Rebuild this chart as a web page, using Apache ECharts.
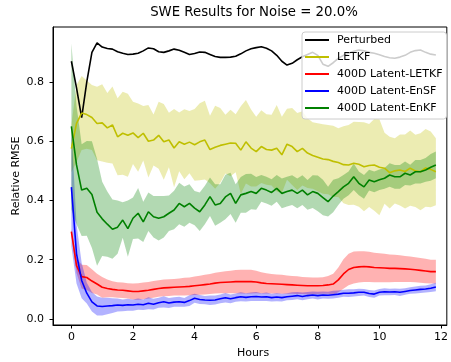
<!DOCTYPE html>
<html><head><meta charset="utf-8">
<script src="https://cdn.jsdelivr.net/npm/echarts@6/dist/echarts.min.js"></script>
<style>html,body{margin:0;padding:0;background:#fff}#c{width:451px;height:362px}</style>
</head><body><div id="c"></div>
<script>
const minutes = [0,10,20,30,40,50,60,70,80,90,100,110,120,130,140,150,160,170,180,190,200,210,220,230,240,250,260,270,280,290,300,310,320,330,340,350,360,370,380,390,400,410,420,430,440,450,460,470,480,490,500,510,520,530,540,550,560,570,580,590,600,610,620,630,640,650,660,670,680,690,700,710];
const seriesNames = ['Perturbed','LETKF','400D Latent-LETKF','400D Latent-EnSF','400D Latent-EnKF'];
const xTicks = [0,2,4,6,8,10,12];
const yTicks = [0,0.2,0.4,0.6,0.8];

const perturbed = [0.87,0.78,0.68,0.80,0.90,0.932,0.918,0.913,0.911,0.902,
0.897,0.893,0.894,0.897,0.905,0.915,0.912,0.902,0.900,0.905,
0.911,0.907,0.900,0.893,0.896,0.901,0.900,0.893,0.886,0.883,
0.883,0.884,0.887,0.895,0.905,0.912,0.916,0.919,0.914,0.905,
0.890,0.870,0.857,0.863,0.875,0.885,0.893,0.900,0.890,0.860,
0.853,0.865,0.880,0.890,0.897,0.904,0.908,0.905,0.900,0.897,
0.892,0.886,0.882,0.880,0.884,0.890,0.900,0.906,0.908,0.900,
0.894,0.891];

const letkf = [0.575,0.66,0.695,0.69,0.68,0.66,0.662,0.645,0.655,0.615,
0.627,0.62,0.628,0.612,0.627,0.60,0.604,0.62,0.598,0.604,
0.577,0.598,0.59,0.597,0.588,0.598,0.604,0.572,0.58,0.586,
0.59,0.594,0.593,0.57,0.598,0.577,0.565,0.582,0.572,0.57,
0.576,0.554,0.59,0.582,0.565,0.576,0.56,0.552,0.546,0.54,
0.538,0.532,0.528,0.521,0.52,0.526,0.522,0.514,0.518,0.52,
0.512,0.509,0.494,0.50,0.503,0.498,0.509,0.50,0.497,0.51,
0.505,0.497];
const letkfSpread = [0.08,0.13,0.125,0.115,0.11,0.124,0.13,0.118,0.13,0.13,
0.14,0.14,0.105,0.115,0.092,0.122,0.086,0.113,0.128,0.092,
0.132,0.099,0.118,0.105,0.121,0.13,0.133,0.114,0.14,0.126,
0.099,0.112,0.098,0.148,0.141,0.13,0.118,0.123,0.119,0.119,
0.146,0.129,0.12,0.13,0.13,0.125,0.118,0.112,0.115,0.117,
0.117,0.12,0.116,0.13,0.135,0.14,0.143,0.15,0.14,0.155,
0.162,0.12,0.121,0.11,0.12,0.125,0.127,0.122,0.13,0.131,
0.128,0.113];

const latLetkf = [0.295,0.18,0.143,0.14,0.128,0.118,0.107,0.103,0.1,0.098,
0.097,0.095,0.093,0.093,0.095,0.097,0.1,0.103,0.105,0.106,
0.107,0.108,0.109,0.11,0.112,0.114,0.116,0.118,0.121,0.123,
0.124,0.125,0.126,0.126,0.126,0.126,0.125,0.122,0.12,0.119,
0.118,0.117,0.116,0.115,0.114,0.113,0.112,0.112,0.112,0.113,
0.115,0.118,0.132,0.152,0.167,0.174,0.176,0.177,0.176,0.174,
0.173,0.172,0.171,0.171,0.17,0.169,0.168,0.166,0.164,0.162,
0.16,0.16];
const latLetkfSpread = [0.01,0.025,0.04,0.042,0.04,0.035,0.035,0.03,0.027,0.026,
0.026,0.026,0.027,0.028,0.028,0.028,0.028,0.028,0.028,0.028,
0.028,0.029,0.03,0.03,0.031,0.032,0.033,0.034,0.035,0.036,
0.037,0.038,0.039,0.04,0.04,0.04,0.038,0.036,0.034,0.033,
0.032,0.032,0.031,0.03,0.03,0.029,0.029,0.028,0.028,0.028,
0.03,0.035,0.042,0.05,0.053,0.054,0.053,0.052,0.051,0.05,
0.049,0.048,0.047,0.046,0.045,0.044,0.043,0.042,0.042,0.041,
0.04,0.04];

const latEnsf = [0.445,0.22,0.13,0.087,0.058,0.044,0.042,0.044,0.045,0.047,
0.046,0.048,0.047,0.05,0.048,0.053,0.05,0.055,0.058,0.054,
0.057,0.058,0.056,0.062,0.07,0.066,0.064,0.063,0.064,0.068,
0.072,0.068,0.072,0.075,0.073,0.075,0.076,0.074,0.075,0.072,
0.074,0.072,0.075,0.077,0.079,0.076,0.079,0.081,0.079,0.081,
0.08,0.082,0.084,0.087,0.087,0.088,0.09,0.09,0.086,0.084,
0.09,0.092,0.091,0.092,0.09,0.093,0.096,0.098,0.1,0.101,
0.104,0.108];
const latEnsfSpread = [0.2,0.1,0.06,0.035,0.033,0.032,0.03,0.028,0.025,0.022,
0.02,0.02,0.019,0.019,0.018,0.02,0.018,0.017,0.019,0.017,
0.016,0.017,0.015,0.018,0.015,0.015,0.014,0.016,0.015,0.015,
0.016,0.015,0.014,0.015,0.014,0.014,0.015,0.013,0.014,0.013,
0.014,0.013,0.012,0.013,0.012,0.013,0.012,0.012,0.013,0.012,
0.012,0.013,0.012,0.012,0.013,0.012,0.012,0.011,0.012,0.012,
0.011,0.012,0.011,0.011,0.012,0.011,0.011,0.012,0.012,0.012,
0.013,0.014];

const latEnkf = [0.65,0.52,0.435,0.441,0.42,0.36,0.338,0.32,0.303,0.31,
0.334,0.305,0.34,0.357,0.328,0.362,0.345,0.34,0.345,0.357,
0.368,0.39,0.379,0.39,0.374,0.362,0.385,0.413,0.385,0.39,
0.412,0.424,0.39,0.419,0.424,0.43,0.424,0.441,0.435,0.427,
0.441,0.424,0.43,0.435,0.424,0.435,0.419,0.43,0.424,0.41,
0.396,0.415,0.43,0.446,0.458,0.48,0.458,0.446,0.469,0.463,
0.47,0.475,0.486,0.48,0.48,0.492,0.486,0.497,0.497,0.503,
0.512,0.52];
const latEnkfSpread = [0.28,0.2,0.155,0.16,0.18,0.18,0.125,0.11,0.1,0.09,
0.06,0.095,0.07,0.085,0.068,0.065,0.07,0.075,0.07,0.06,
0.065,0.07,0.068,0.065,0.058,0.065,0.065,0.065,0.07,0.065,
0.075,0.07,0.065,0.06,0.065,0.06,0.055,0.045,0.045,0.045,
0.045,0.05,0.05,0.05,0.05,0.05,0.05,0.055,0.06,0.06,
0.05,0.055,0.045,0.04,0.04,0.045,0.04,0.04,0.035,0.035,
0.035,0.035,0.04,0.04,0.04,0.04,0.035,0.04,0.04,0.04,
0.045,0.045];

const hours = minutes.map(m => m / 60);
const FONT = '"DejaVu Sans", sans-serif';

function lineSeries(name, color, vals) {
  return {
    type: 'line', name: name, silent: true, animation: false,
    showSymbol: false, symbol: 'none', z: 2,
    data: hours.map((h, i) => [h, vals[i]]),
    lineStyle: { color: color, width: 1.6 },
    itemStyle: { color: color }
  };
}
function bandSeries(fill, mean, spread) {
  return {
    type: 'custom', silent: true, animation: false, z: 2, clip: true,
    data: [[hours[0], mean[0]]],
    renderItem: function (params, api) {
      const pts = [];
      for (let i = 0; i < hours.length; i++) pts.push(api.coord([hours[i], mean[i] + spread[i]]));
      for (let i = hours.length - 1; i >= 0; i--) pts.push(api.coord([hours[i], mean[i] - spread[i]]));
      return { type: 'polygon', shape: { points: pts }, style: { fill: fill, stroke: null } };
    }
  };
}

const series = [
  lineSeries(seriesNames[0], '#000000', perturbed),
  lineSeries(seriesNames[1], '#bfbf00', letkf),
  bandSeries('rgba(191,191,0,0.3)', letkf, letkfSpread),
  lineSeries(seriesNames[2], '#ff0000', latLetkf),
  bandSeries('rgba(255,0,0,0.3)', latLetkf, latLetkfSpread),
  lineSeries(seriesNames[3], '#0000ff', latEnsf),
  bandSeries('rgba(0,0,255,0.3)', latEnsf, latEnsfSpread),
  lineSeries(seriesNames[4], '#008000', latEnkf),
  bandSeries('rgba(0,128,0,0.3)', latEnkf, latEnkfSpread)
];

const chart = echarts.init(document.getElementById('c'), null, { renderer: 'canvas' });
chart.setOption({
  animation: false,
  backgroundColor: '#ffffff',
  grid: { left: 53, top: 27, width: 396, height: 298, show: true, borderColor: '#000', borderWidth: 1, backgroundColor: 'transparent' },
  xAxis: {
    type: 'value', min: -0.597, max: 12.189,
    splitLine: { show: false },
    axisLine: { show: true, onZero: false, lineStyle: { color: '#000', width: 1 } },
    axisTick: { show: true, length: 3.5, customValues: xTicks, lineStyle: { color: '#000', width: 1 } },
    axisLabel: { customValues: xTicks, margin: 7, color: '#000', fontSize: 11, fontFamily: FONT, formatter: v => String(Math.round(v)) }
  },
  yAxis: {
    type: 'value', min: -0.0203, max: 0.9856,
    splitLine: { show: false },
    axisLine: { show: true, onZero: false, lineStyle: { color: '#000', width: 1 } },
    axisTick: { show: true, length: 3.5, customValues: yTicks, lineStyle: { color: '#000', width: 1 } },
    axisLabel: { customValues: yTicks, margin: 9, color: '#000', fontSize: 11, fontFamily: FONT, formatter: v => v.toFixed(1) }
  },
  legend: {
    data: seriesNames, orient: 'vertical', left: 302, top: 32,
    icon: 'rect', itemWidth: 24, itemHeight: 2, itemGap: 5,
    padding: [2, 4, 5, 3], selectedMode: false,
    backgroundColor: 'rgba(255,255,255,0.8)', borderColor: '#cccccc', borderWidth: 1, borderRadius: 3,
    textStyle: { fontSize: 11, fontFamily: FONT, color: '#000', lineHeight: 12, padding: [0, 0, 0, 3] }
  },
  graphic: [
    { type: 'text', x: 254, y: 13, silent: true,
      style: { text: 'SWE Results for Noise = 20.0%', font: '13.3px ' + FONT, fill: '#000', align: 'center', verticalAlign: 'middle', textAlign: 'center', textVerticalAlign: 'middle' } },
    { type: 'text', x: 253, y: 353, silent: true,
      style: { text: 'Hours', font: '11px ' + FONT, fill: '#000', align: 'center', verticalAlign: 'middle', textAlign: 'center', textVerticalAlign: 'middle' } },
    { type: 'text', x: 16, y: 176, rotation: Math.PI / 2, silent: true,
      style: { text: 'Relative RMSE', font: '11px ' + FONT, fill: '#000', align: 'center', verticalAlign: 'middle', textAlign: 'center', textVerticalAlign: 'middle' } }
  ],
  series: series
});
</script></body></html>
